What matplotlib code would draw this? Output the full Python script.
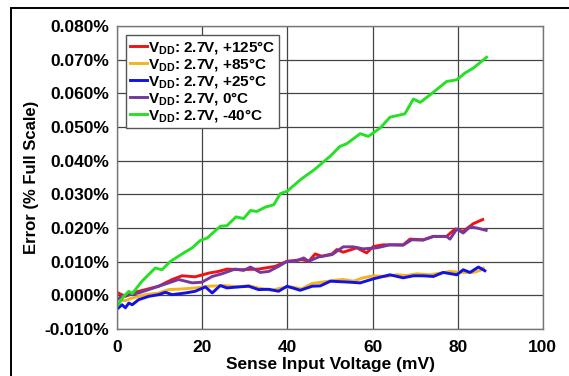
import matplotlib
matplotlib.use("Agg")
import matplotlib.pyplot as plt
from matplotlib.patches import Rectangle
from matplotlib.ticker import FuncFormatter

plt.rcParams['font.family'] = ['Liberation Sans', 'DejaVu Sans']
plt.rcParams['font.weight'] = 'bold'
plt.rcParams['mathtext.fontset'] = 'custom'
plt.rcParams['mathtext.rm'] = 'Liberation Sans:bold'
plt.rcParams['mathtext.it'] = 'Liberation Sans:bold'
plt.rcParams['mathtext.bf'] = 'Liberation Sans:bold'

# data (x in mV, error in % of full scale)
x_125 = [0.2, 1.9, 3.5, 6.6, 9.7, 12.9, 15.2, 18.3, 21.5, 23.8, 25.8, 29.0, 33.2, 37.1, 39.9,
         43.4, 45.0, 46.5, 48.1, 50.5, 51.6, 53.1, 56.3, 58.6, 60.2, 62.5, 64.9, 67.2, 68.8,
         71.9, 74.3, 77.4, 79.4, 81.3, 83.7, 85.9]
y_125 = [0.0007, -0.0003, 0.0007, 0.0017, 0.0027, 0.0047, 0.0058, 0.0055, 0.0066, 0.0071,
         0.0078, 0.0076, 0.0078, 0.0086, 0.0101, 0.0106, 0.0101, 0.0123, 0.0116, 0.0123,
         0.0136, 0.0128, 0.0141, 0.0126, 0.0145, 0.0150, 0.0150, 0.0150, 0.0167, 0.0165,
         0.0175, 0.0175, 0.0197, 0.0190, 0.0213, 0.0225]

x_85 = [0.3, 1.9, 3.5, 6.6, 9.7, 12.1, 15.2, 18.3, 21.5, 25.3, 28.4, 30.8, 33.1, 36.3, 38.6,
        41.0, 43.3, 45.7, 48.0, 51.2, 53.0, 55.5, 57.8, 60.2, 63.3, 65.7, 68.0, 70.4, 73.5,
        75.9, 78.2, 80.6, 83.7, 85.3, 86.0]
y_85 = [-0.0013, -0.0016, -0.0008, 0.0002, 0.0007, 0.0017, 0.0019, 0.0022, 0.0027, 0.0029,
        0.0025, 0.0029, 0.0022, 0.0015, 0.0022, 0.0025, 0.0019, 0.0035, 0.0039, 0.0045,
        0.0047, 0.0042, 0.0052, 0.0058, 0.0056, 0.0061, 0.0059, 0.0064, 0.0061, 0.0066,
        0.0071, 0.0068, 0.0068, 0.0074, 0.0081]

x_25 = [0.3, 1.1, 1.9, 2.7, 3.5, 5.0, 7.4, 9.7, 11.3, 12.9, 16.0, 18.3, 20.7, 22.3, 24.2,
        25.8, 28.5, 30.9, 33.2, 35.6, 37.9, 39.9, 43.0, 45.8, 47.7, 50.1, 54.7, 57.1, 60.2,
        64.1, 67.2, 69.6, 71.9, 74.3, 76.6, 79.8, 81.3, 82.9, 84.9, 86.4]
y_25 = [-0.0037, -0.0028, -0.0037, -0.0023, -0.0028, -0.0013, -0.0003, 0.0002, 0.0009,
        0.0002, 0.0007, 0.0012, 0.0025, 0.0007, 0.0029, 0.0022, 0.0025, 0.0027, 0.0017,
        0.0018, 0.0012, 0.0027, 0.0015, 0.0027, 0.0028, 0.0042, 0.0039, 0.0037, 0.0049,
        0.0061, 0.0052, 0.0058, 0.0058, 0.0056, 0.0068, 0.0061, 0.0076, 0.0068, 0.0084, 0.0073]

x_0 = [0.2, 1.0, 5.0, 7.4, 9.7, 12.1, 14.4, 17.6, 19.9, 22.3, 24.6, 27.7, 29.7, 31.3, 33.6,
       35.6, 37.9, 39.9, 41.8, 43.8, 45.0, 47.3, 50.5, 53.1, 55.5, 57.8, 61.0, 64.1, 67.2,
       69.2, 71.9, 74.3, 77.4, 78.2, 79.8, 81.3, 82.9, 84.5, 86.7]
y_0 = [-0.0010, -0.0003, 0.0007, 0.0017, 0.0027, 0.0037, 0.0047, 0.0037, 0.0039, 0.0056,
       0.0064, 0.0078, 0.0074, 0.0084, 0.0068, 0.0071, 0.0086, 0.0101, 0.0101, 0.0111,
       0.0101, 0.0114, 0.0121, 0.0144, 0.0144, 0.0138, 0.0141, 0.0150, 0.0149, 0.0165,
       0.0164, 0.0175, 0.0175, 0.0167, 0.0197, 0.0185, 0.0203, 0.0200, 0.0193]

x_m40 = [0.2, 1.5, 2.7, 3.5, 5.8, 8.9, 10.5, 12.5, 15.6, 17.6, 19.5, 21.1, 24.2, 25.8, 27.9,
         29.7, 31.3, 32.8, 34.8, 36.8, 38.3, 39.9, 43.2, 46.3, 50.2, 52.3, 53.9, 57.1, 59.0,
         61.8, 64.1, 67.6, 69.6, 71.2, 73.9, 77.4, 79.8, 81.7, 83.7, 86.8]
y_m40 = [-0.0028, -0.0003, 0.0012, 0.0005, 0.0042, 0.0081, 0.0076, 0.0101, 0.0126, 0.0141,
         0.0163, 0.0170, 0.0205, 0.0207, 0.0233, 0.0228, 0.0252, 0.0249, 0.0262, 0.0269,
         0.0302, 0.0309, 0.0345, 0.0373, 0.0415, 0.0442, 0.0450, 0.0480, 0.0472, 0.0497,
         0.0529, 0.0539, 0.0583, 0.0573, 0.0599, 0.0635, 0.0640, 0.0660, 0.0675, 0.0707]

labels = ["V$_{DD}$: 2.7V, +125°C", "V$_{DD}$: 2.7V, +85°C", "V$_{DD}$: 2.7V, +25°C",
          "V$_{DD}$: 2.7V, 0°C", "V$_{DD}$: 2.7V, -40°C"]
colors = ['#ee1414', '#f5b41e', '#1212e6', '#7538a0', '#26e026']

fig = plt.figure(figsize=(5.69, 3.76), dpi=100)
ax = fig.add_axes([0.2062, 0.125, 0.7476, 0.806])

# outer frame around the whole chart
fig.patches.append(Rectangle((11 / 569, -0.05), 1.2, 1.05 - 8 / 376, transform=fig.transFigure,
                             fill=False, edgecolor='black', linewidth=1.4))

series = [(x_125, y_125), (x_85, y_85), (x_25, y_25), (x_0, y_0), (x_m40, y_m40)]
for (xs, ys), lab, c in zip(series, labels, colors):
    ax.plot(xs, ys, color=c, lw=2.1, label=lab)

ax.set_xlim(0, 100)
ax.set_ylim(-0.01, 0.08)
ax.set_xticks([0, 20, 40, 60, 80, 100])
ax.set_yticks([-0.01 + 0.01 * i for i in range(10)])
ax.yaxis.set_major_formatter(FuncFormatter(lambda v, p: '%.3f%%' % v))
ax.grid(True, color='#444444', lw=0.9)
ax.set_axisbelow(True)
ax.tick_params(length=0, labelsize=12.5)
ax.tick_params(axis='x', pad=8)
ax.tick_params(axis='y', pad=6)
for lab in ax.get_xticklabels() + ax.get_yticklabels():
    lab.set_fontweight('bold')
for s in ax.spines.values():
    s.set_color('#777777')
    s.set_linewidth(1.0)

ax.set_xlabel('Sense Input Voltage (mV)', fontsize=12.5, fontweight='bold', labelpad=1)
ax.set_ylabel('Error (% Full Scale)', fontsize=12, fontweight='bold', labelpad=4)

leg = ax.legend(loc='upper left', bbox_to_anchor=(0.021, 0.97), fontsize=11,
                handlelength=1.1, handletextpad=0.1, borderpad=0.25, labelspacing=0.0,
                fancybox=False, framealpha=1, edgecolor='#555555', borderaxespad=0)
leg.get_frame().set_linewidth(1.0)
for t in leg.get_texts():
    t.set_fontweight('bold')

fig.savefig('out.png', dpi=100)
